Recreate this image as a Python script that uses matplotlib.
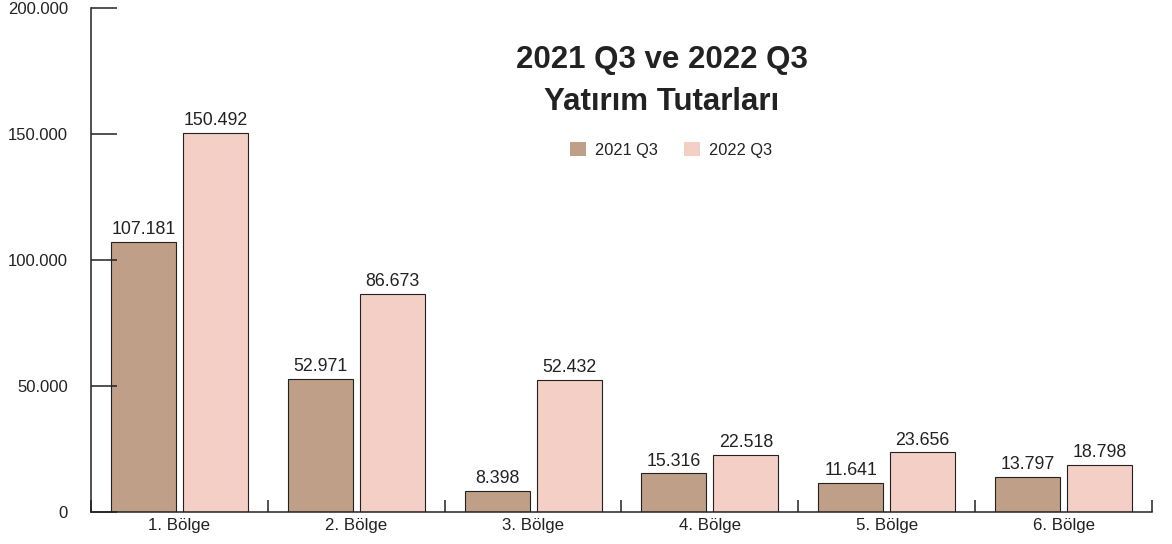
import numpy as np
import matplotlib
matplotlib.use("Agg")
import matplotlib.pyplot as plt
from matplotlib.ticker import FixedLocator, FuncFormatter

plt.rcParams['font.family'] = ['Liberation Sans', 'DejaVu Sans']

regions = ["1. Bölge", "2. Bölge", "3. Bölge", "4. Bölge", "5. Bölge", "6. Bölge"]
q3_2021 = [107181, 52971, 8398, 15316, 11641, 13797]
q3_2022 = [150492, 86673, 52432, 22518, 23656, 18798]
series_names = ["2021 Q3", "2022 Q3"]
y_ticks = [0, 50000, 100000, 150000, 200000]

col_2021 = "#bf9f87"
col_2022 = "#f3cfc5"
ink = "#222222"


def dotted(v, pos=None):
    # Turkish style thousands separator
    return f"{int(v):,}".replace(",", ".")


fig = plt.figure(figsize=(11.72, 5.44), dpi=100)
ax = fig.add_axes([91 / 1172, 32 / 544, (1152 - 91) / 1172, (512 - 8) / 544])

x = np.arange(len(regions))
w = 0.367
off = w / 2 + 0.02
b1 = ax.bar(x - off, q3_2021, w, color=col_2021, edgecolor=ink, linewidth=0.8, label=series_names[0])
b2 = ax.bar(x + off, q3_2022, w, color=col_2022, edgecolor=ink, linewidth=0.8, label=series_names[1])

for bars, vals in ((b1, q3_2021), (b2, q3_2022)):
    for r, v in zip(bars, vals):
        ax.text(r.get_x() + r.get_width() / 2, v + 1500, dotted(v),
                ha="center", va="bottom", fontsize=12.8, color=ink)

ax.set_xlim(-0.5, len(regions) - 0.5)
ax.set_ylim(0, 200000)

# category labels at centres, small upward ticks between groups
ax.set_xticks(x)
ax.set_xticklabels(regions)
ax.xaxis.set_minor_locator(FixedLocator(np.arange(len(regions) + 1) - 0.5))
ax.tick_params(axis="x", which="major", length=0, pad=4, labelsize=12.2, labelcolor=ink)
ax.tick_params(axis="x", which="minor", direction="in", length=9, width=1.1, color=ink)

ax.set_yticks(y_ticks)
ax.yaxis.set_major_formatter(FuncFormatter(dotted))
ax.tick_params(axis="y", direction="in", length=19, width=1.1, color=ink,
               pad=16.5, labelsize=12, labelcolor=ink)

for s in ("top", "right"):
    ax.spines[s].set_visible(False)
for s in ("left", "bottom"):
    ax.spines[s].set_linewidth(1.1)
    ax.spines[s].set_color(ink)

fig.text(662 / 1172, 1 - 60 / 544, "2021 Q3 ve 2022 Q3", ha="center", va="center",
         fontsize=22.5, fontweight="bold", color=ink)
fig.text(662 / 1172, 1 - 102 / 544, "Yatırım Tutarları", ha="center", va="center",
         fontsize=22.5, fontweight="bold", color=ink)

leg = ax.legend(loc="center", bbox_to_anchor=(671 / 1172, 1 - 150 / 544),
                bbox_transform=fig.transFigure, ncol=2, frameon=False,
                fontsize=11.8, handlelength=0.95, handleheight=0.95,
                handletextpad=0.55, columnspacing=1.6)
for h in leg.legend_handles:
    h.set_edgecolor("none")
for t in leg.get_texts():
    t.set_color(ink)

fig.savefig("out.png", dpi=100)
